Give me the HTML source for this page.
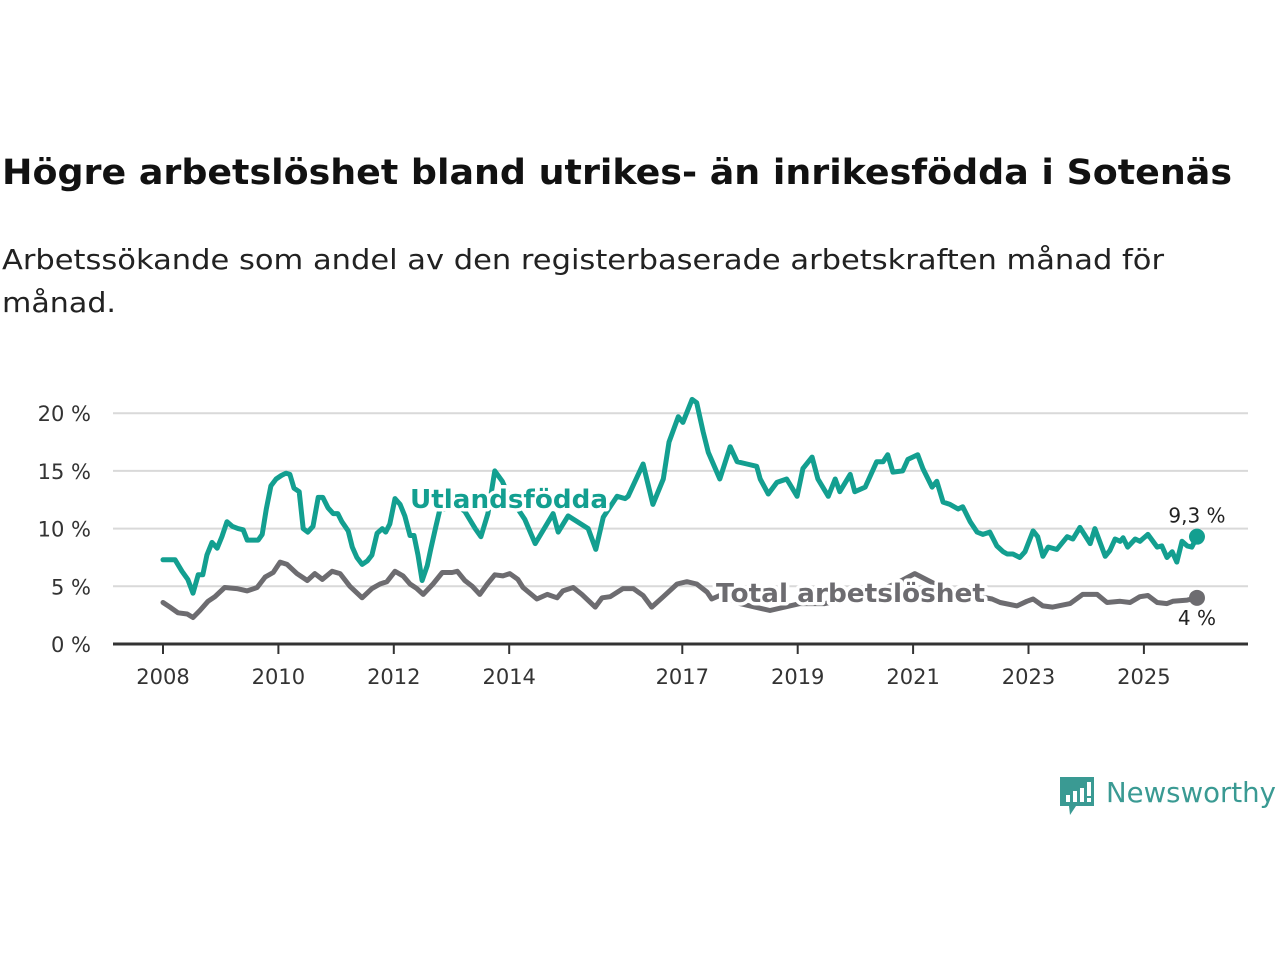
<!DOCTYPE html>
<html><head><meta charset="utf-8"><style>
body{margin:0;background:#fff;width:1280px;height:960px;overflow:hidden;font-family:"DejaVu Sans","Liberation Sans",sans-serif}
svg{position:absolute;left:0;top:0}
</style></head><body>
<svg id="chart" width="1280" height="960">
<text x="2" y="184" font-size="35" font-weight="bold" fill="#111" textLength="1230" lengthAdjust="spacingAndGlyphs">Högre arbetslöshet bland utrikes- än inrikesfödda i Sotenäs</text>
<text x="2" y="269" font-size="28" fill="#222" textLength="1162" lengthAdjust="spacingAndGlyphs">Arbetssökande som andel av den registerbaserade arbetskraften månad för</text>
<text x="2" y="312" font-size="28" fill="#222" textLength="114" lengthAdjust="spacingAndGlyphs">månad.</text>
<g id="grid"></g><g id="axes"></g><g id="series"></g><g id="labels"></g>
<g>
<path d="M1060 777 h34 v29 h-18 l-6 9 l-1 -9 h-9 z" fill="#3a9a93"/>
<rect x="1066" y="795" width="4" height="7" fill="#fff"/><rect x="1073" y="791" width="4" height="11" fill="#fff"/><rect x="1080" y="788" width="4" height="14" fill="#fff"/><rect x="1087" y="782" width="4" height="14" fill="#fff"/><rect x="1087" y="798" width="4" height="4" fill="#fff"/>
<text x="1106" y="802" font-size="28" fill="#3a9a93" textLength="170" lengthAdjust="spacingAndGlyphs">Newsworthy</text>
</g>
</svg>
<script>
const yTicks=[0,5,10,15,20];
const xTickYears=[2008,2010,2012,2014,2017,2019,2021,2023,2025];
const foreignDates=[2008.00,2008.21,2008.33,2008.43,2008.52,2008.61,2008.69,2008.76,2008.85,2008.94,2009.02,2009.11,2009.20,2009.30,2009.39,2009.46,2009.56,2009.65,2009.72,2009.79,2009.87,2009.96,2010.05,2010.13,2010.20,2010.27,2010.36,2010.43,2010.51,2010.60,2010.69,2010.77,2010.86,2010.95,2011.03,2011.10,2011.21,2011.28,2011.36,2011.45,2011.54,2011.62,2011.71,2011.80,2011.86,2011.93,2012.02,2012.11,2012.19,2012.28,2012.35,2012.42,2012.49,2012.58,2012.64,2012.73,2012.80,2012.89,2013.06,2013.23,2013.41,2013.51,2013.63,2013.75,2013.88,2014.01,2014.15,2014.27,2014.45,2014.76,2014.85,2015.02,2015.37,2015.50,2015.63,2015.87,2016.01,2016.06,2016.32,2016.49,2016.67,2016.77,2016.93,2017.01,2017.17,2017.25,2017.36,2017.45,2017.65,2017.83,2017.95,2018.12,2018.29,2018.35,2018.49,2018.64,2018.81,2018.99,2019.09,2019.25,2019.35,2019.53,2019.65,2019.73,2019.91,2019.99,2020.17,2020.37,2020.48,2020.56,2020.65,2020.82,2020.91,2021.08,2021.17,2021.33,2021.41,2021.52,2021.64,2021.78,2021.86,2021.99,2022.11,2022.21,2022.33,2022.45,2022.56,2022.63,2022.73,2022.85,2022.94,2023.08,2023.16,2023.25,2023.34,2023.49,2023.67,2023.77,2023.89,2024.07,2024.15,2024.33,2024.41,2024.50,2024.59,2024.64,2024.72,2024.85,2024.93,2025.07,2025.23,2025.31,2025.40,2025.49,2025.57,2025.66,2025.75,2025.83,2025.92];
const foreignValues=[7.3,7.3,6.3,5.6,4.4,6.0,6.0,7.7,8.8,8.3,9.3,10.6,10.2,10.0,9.9,9.0,9.0,9.0,9.5,11.7,13.7,14.3,14.6,14.8,14.7,13.5,13.2,10.0,9.7,10.2,12.7,12.7,11.8,11.3,11.3,10.6,9.8,8.4,7.5,6.9,7.2,7.7,9.6,10.0,9.7,10.4,12.6,12.1,11.1,9.4,9.4,7.7,5.5,6.8,8.2,10.2,11.7,11.7,12.1,11.5,10.0,9.3,11.3,15.0,14.1,12.6,11.7,10.8,8.7,11.3,9.7,11.1,10.0,8.2,11.0,12.8,12.6,12.8,15.6,12.1,14.3,17.5,19.7,19.2,21.2,20.9,18.4,16.6,14.3,17.1,15.8,15.6,15.4,14.3,13.0,14.0,14.3,12.8,15.2,16.2,14.3,12.8,14.3,13.2,14.7,13.2,13.6,15.8,15.8,16.4,14.9,15.0,16.0,16.4,15.2,13.6,14.1,12.3,12.1,11.7,11.9,10.6,9.7,9.5,9.7,8.5,8.0,7.8,7.8,7.5,8.0,9.8,9.3,7.6,8.4,8.2,9.3,9.1,10.1,8.7,10.0,7.6,8.1,9.1,8.9,9.2,8.4,9.1,8.9,9.5,8.4,8.5,7.5,8.0,7.1,8.9,8.5,8.4,9.3];
const totalDates=[2008.00,2008.12,2008.26,2008.42,2008.52,2008.64,2008.78,2008.90,2009.07,2009.28,2009.46,2009.63,2009.77,2009.91,2010.03,2010.15,2010.32,2010.50,2010.63,2010.76,2010.93,2011.07,2011.24,2011.45,2011.62,2011.76,2011.88,2012.02,2012.16,2012.28,2012.40,2012.51,2012.68,2012.84,2013.01,2013.10,2013.23,2013.36,2013.49,2013.62,2013.75,2013.89,2014.01,2014.15,2014.24,2014.48,2014.66,2014.83,2014.93,2015.11,2015.26,2015.49,2015.61,2015.75,2015.97,2016.15,2016.32,2016.47,2016.67,2016.91,2017.08,2017.25,2017.43,2017.51,2017.65,2018.00,2018.52,2019.04,2019.47,2020.08,2020.69,2021.03,2021.38,2021.81,2022.16,2022.37,2022.51,2022.80,2022.97,2023.08,2023.25,2023.42,2023.72,2023.94,2024.19,2024.36,2024.59,2024.76,2024.93,2025.07,2025.23,2025.40,2025.50,2025.75,2025.92];
const totalValues=[3.6,3.2,2.7,2.6,2.3,2.9,3.7,4.1,4.9,4.8,4.6,4.9,5.8,6.2,7.1,6.9,6.1,5.5,6.1,5.6,6.3,6.1,5.0,4.0,4.8,5.2,5.4,6.3,5.9,5.2,4.8,4.3,5.2,6.2,6.2,6.3,5.5,5.0,4.3,5.2,6.0,5.9,6.1,5.6,4.9,3.9,4.3,4.0,4.6,4.9,4.3,3.2,4.0,4.1,4.8,4.8,4.2,3.2,4.1,5.2,5.4,5.2,4.5,3.9,4.2,3.5,2.9,3.5,3.5,4.1,5.2,6.1,5.2,4.3,4.1,3.9,3.6,3.3,3.7,3.9,3.3,3.2,3.5,4.3,4.3,3.6,3.7,3.6,4.1,4.2,3.6,3.5,3.7,3.8,4.0];
const foreignName="Utlandsfödda", totalName="Total arbetslöshet";

const NS="http://www.w3.org/2000/svg";
const X0=163, PXY=57.7, Y0=644, PXV=11.54;
function xs(y){return X0+(y-2008)*PXY;}
function ys(v){return Y0-v*PXV;}
function mk(tag,attrs,parent){const e=document.createElementNS(NS,tag);for(const k in attrs)e.setAttribute(k,attrs[k]);parent.appendChild(e);return e;}
const grid=document.getElementById('grid'),axes=document.getElementById('axes'),ser=document.getElementById('series'),lab=document.getElementById('labels');
yTicks.forEach(t=>{
  if(t>0){const l=mk('line',{x1:113,x2:1248,y1:ys(t),y2:ys(t),stroke:'#d9d9d9','stroke-width':2},grid);
  
  }
  const tx=mk('text',{x:91,y:ys(t)+8,'text-anchor':'end','font-size':21,fill:'#333'},axes);
  tx.textContent=t+' %';
  
  
});
const ax=mk('line',{x1:113,x2:1248,y1:Y0,y2:Y0,stroke:'#333','stroke-width':3},axes);


xTickYears.forEach(y=>{
  const tk=mk('line',{x1:xs(y),x2:xs(y),y1:Y0,y2:Y0+10,stroke:'#333','stroke-width':2},axes);
  
  
  const tx=mk('text',{x:xs(y),y:684,'text-anchor':'middle','font-size':21,fill:'#333'},axes);
  tx.textContent=y;
  
  
});
function drawLine(d,v,color,name){
  const n=Math.min(d.length,v.length)-1;
  const pts=d.slice(0,n+1).map((t,i)=>xs(t).toFixed(1)+','+ys(v[i]).toFixed(1)).join(' ');
  const p=mk('polyline',{points:pts,fill:'none',stroke:color,'stroke-width':5,'stroke-linejoin':'round','stroke-linecap':'round'},ser);
  
  
  const c=mk('circle',{cx:xs(d[n]),cy:ys(v[n]),r:8,fill:color},ser);
  
  
  return [xs(d[n]),ys(v[n]),v[n]];
}
const fe=drawLine(foreignDates,foreignValues,'#139f90','foreign-born');
const te=drawLine(totalDates,totalValues,'#6d6c70','total');
function label(x,y,txt,color,name,size,bold,anchor,len){
  const a={x:x,y:y,'font-size':size,'font-weight':bold?'bold':'normal',fill:color,stroke:'#fff','stroke-width':bold?7:4,'paint-order':'stroke','stroke-linejoin':'round','text-anchor':anchor||'start'};
  if(len){a.textLength=len;a.lengthAdjust='spacingAndGlyphs';}
  const t=mk('text',a,lab);
  t.textContent=txt;
  
  
}
label(410,508,foreignName,'#139f90','foreign-born-series-label',26,true,'start',198);
label(716,602,totalName,'#6d6c70','total-series-label',26,true,'start',269);
label(fe[0],fe[1]-14,String(fe[2]).replace('.',',')+' %','#222','foreign-born-end-value',20,false,'middle');
label(te[0],te[1]+27,String(te[2]).replace('.',',')+' %','#222','total-end-value',20,false,'middle');
</script>
</body></html>
